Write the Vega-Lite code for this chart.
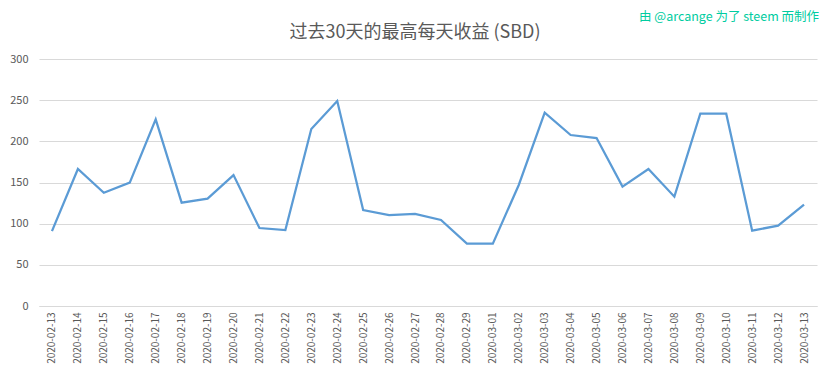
{
  "$schema": "https://vega.github.io/schema/vega-lite/v6.json",
  "width": 778,
  "height": 247,
  "autosize": {"type": "none"},
  "padding": {"left": 39, "top": 59, "right": 16, "bottom": 73},
  "background": "white",
  "title": {
    "text": "过去30天的最高每天收益 (SBD)",
    "font": "Noto Sans CJK SC",
    "fontSize": 18,
    "fontWeight": "normal",
    "color": "#595959",
    "anchor": "middle",
    "dx": -13,
    "offset": -31
  },
  "config": {
    "view": {"stroke": null},
    "font": "Noto Sans CJK SC"
  },
  "data": {
    "values": [
      {"date": "2020-02-13", "value": 91},
      {"date": "2020-02-14", "value": 166.4},
      {"date": "2020-02-15", "value": 137.6},
      {"date": "2020-02-16", "value": 149.8},
      {"date": "2020-02-17", "value": 226.7},
      {"date": "2020-02-18", "value": 125.5},
      {"date": "2020-02-19", "value": 130.4},
      {"date": "2020-02-20", "value": 159},
      {"date": "2020-02-21", "value": 94.7},
      {"date": "2020-02-22", "value": 92.3},
      {"date": "2020-02-23", "value": 215},
      {"date": "2020-02-24", "value": 249},
      {"date": "2020-02-25", "value": 116.6},
      {"date": "2020-02-26", "value": 110.5},
      {"date": "2020-02-27", "value": 111.8},
      {"date": "2020-02-28", "value": 104.5},
      {"date": "2020-02-29", "value": 75.7},
      {"date": "2020-03-01", "value": 75.7},
      {"date": "2020-03-02", "value": 147},
      {"date": "2020-03-03", "value": 234.8},
      {"date": "2020-03-04", "value": 207.7},
      {"date": "2020-03-05", "value": 204},
      {"date": "2020-03-06", "value": 145},
      {"date": "2020-03-07", "value": 166.4},
      {"date": "2020-03-08", "value": 132.8},
      {"date": "2020-03-09", "value": 233.6},
      {"date": "2020-03-10", "value": 233.6},
      {"date": "2020-03-11", "value": 91.5},
      {"date": "2020-03-12", "value": 97.6},
      {"date": "2020-03-13", "value": 123}
    ]
  },
  "layer": [
    {
      "mark": {"type": "line", "color": "#5B9BD5", "strokeWidth": 2.25},
      "encoding": {
        "x": {
          "field": "date",
          "type": "ordinal",
          "scale": {"type": "point", "padding": 0.5},
          "axis": {
            "title": null,
            "labelAngle": -90,
            "labelFontSize": 10,
            "labelColor": "#595959",
            "labelPadding": 6,
            "ticks": false,
            "domainColor": "#d9d9d9",
            "grid": false
          }
        },
        "y": {
          "field": "value",
          "type": "quantitative",
          "scale": {"domain": [0, 300]},
          "axis": {
            "title": null,
            "values": [0, 50, 100, 150, 200, 250, 300],
            "labelFontSize": 11,
            "labelColor": "#595959",
            "labelPadding": 11,
            "ticks": false,
            "domain": false,
            "gridColor": "#d9d9d9"
          }
        }
      }
    },
    {
      "data": {"values": [{"date": "2020-03-13", "value": 300, "label": "由 @arcange 为了 steem 而制作"}]},
      "mark": {"type": "text", "align": "right", "baseline": "middle", "dy": -42, "dx": 15, "fontSize": 12.5, "color": "#00CCA0"},
      "encoding": {
        "x": {"field": "date", "type": "ordinal"},
        "y": {"field": "value", "type": "quantitative"},
        "text": {"field": "label"}
      }
    }
  ]
}
